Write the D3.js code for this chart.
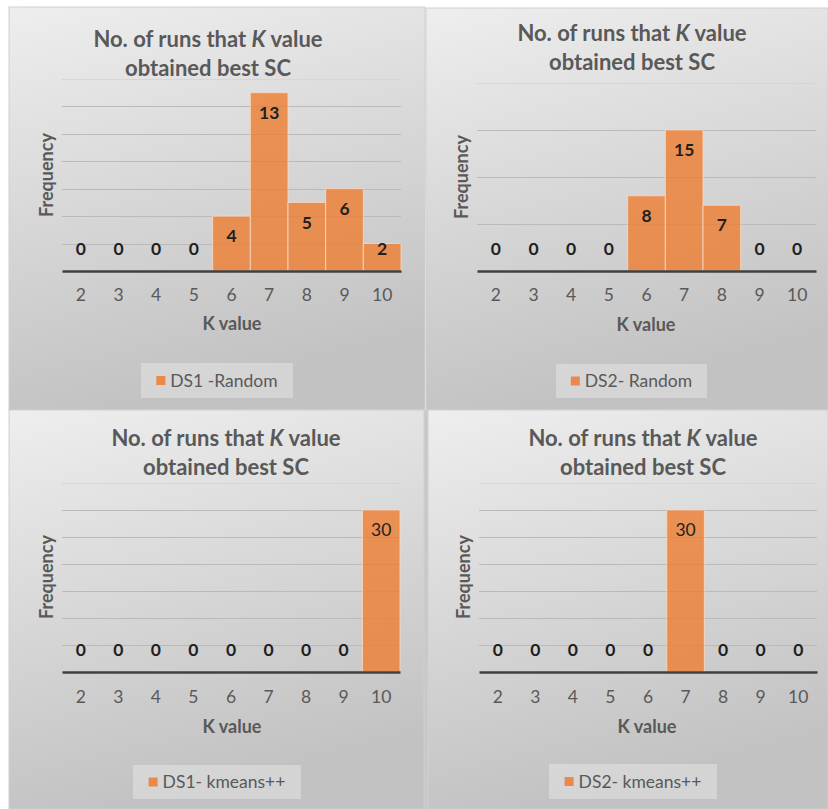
<!DOCTYPE html>
<html>
<head>
<meta charset="utf-8">
<script src="https://cdn.jsdelivr.net/npm/d3@7"></script>
<style>
  html, body { margin: 0; padding: 0; background: #ffffff; }
  svg { display: block; font-family: Lato, "Open Sans", sans-serif; }
</style>
</head>
<body>
<svg id="chart" width="828" height="809"></svg>
<script>
// Category axis: the K values tried
const kValues = ["2", "3", "4", "5", "6", "7", "8", "9", "10"];

// Number of runs (out of 30) in which each K gave the best silhouette coefficient
const ds1Random = [0, 0, 0, 0, 4, 13, 5, 6, 2];
const ds2Random = [0, 0, 0, 0, 8, 15, 7, 0, 0];
const ds1Kmeans = [0, 0, 0, 0, 0, 0, 0, 0, 30];
const ds2Kmeans = [0, 0, 0, 0, 0, 30, 0, 0, 0];

const seriesValues = [ds1Random, ds2Random, ds1Kmeans, ds2Kmeans];
const seriesNames = ["DS1 -Random", "DS2- Random", "DS1- kmeans++", "DS2- kmeans++"];

// Value axis extent and gridline step for each chart
const yMaxes = [14, 20, 35, 35];
const yTickSteps = [2, 5, 5, 5];

const xAxisTitle = "K value";
const yAxisTitle = "Frequency";
const titleLine1 = ["No. of runs that ", "K", " value"];
const titleLine2 = "obtained best SC";

// Placement of the four chart areas on the page
const layout = [
  { box: [9, 7, 416, 403],  plot: [62, 79, 401, 271],  titleX: 208, titleY: [39, 68],  tickY: 295, xTitle: [232, 324], yTitle: [47, 175],  legend: [141, 363, 152, 35] },
  { box: [426, 8, 402, 402], plot: [477, 83, 816, 271], titleX: 632, titleY: [33, 62],  tickY: 295, xTitle: [646, 325], yTitle: [462, 177], legend: [556, 364, 151, 34] },
  { box: [9, 410, 415, 399], plot: [62, 483, 400, 672], titleX: 226, titleY: [438, 467], tickY: 697, xTitle: [232, 727], yTitle: [47, 577],  legend: [133, 765, 168, 34] },
  { box: [428, 410, 400, 399], plot: [479, 483, 817, 672], titleX: 643, titleY: [438, 467], tickY: 697, xTitle: [647, 727], yTitle: [464, 577], legend: [549, 764, 168, 35] }
];

const svg = d3.select("#chart");
const defs = svg.append("defs");

const grad = defs.append("linearGradient")
  .attr("id", "panelBg")
  .attr("x1", 0).attr("y1", 0).attr("x2", 0.25).attr("y2", 1);
grad.append("stop").attr("offset", "0%").attr("stop-color", "#eeeeee");
grad.append("stop").attr("offset", "45%").attr("stop-color", "#dadada");
grad.append("stop").attr("offset", "100%").attr("stop-color", "#c2c2c2");

// gap strip between the lower charts
svg.append("rect").attr("x", 424).attr("y", 410).attr("width", 4).attr("height", 399).attr("fill", "#c8c8c8");

layout.forEach((L, i) => {
  const values = seriesValues[i];
  const g = svg.append("g");

  // chart area background
  g.append("rect")
    .attr("x", L.box[0]).attr("y", L.box[1])
    .attr("width", L.box[2]).attr("height", L.box[3])
    .attr("fill", "url(#panelBg)")
    .attr("stroke", "#cfcfcf").attr("stroke-width", 1);

  const [x0, yTop, x1, yBase] = L.plot;
  const x = d3.scaleBand().domain(kValues).range([x0, x1]).paddingInner(0).paddingOuter(0);
  const y = d3.scaleLinear().domain([0, yMaxes[i]]).range([yBase, yTop]);
  const gridTicks = d3.range(yTickSteps[i], yMaxes[i] + 0.001, yTickSteps[i]);

  // horizontal gridlines
  g.append("g")
    .selectAll("line")
    .data(gridTicks)
    .join("line")
    .attr("x1", x0).attr("x2", x1)
    .attr("y1", d => Math.round(y(d)) + 0.5).attr("y2", d => Math.round(y(d)) + 0.5)
    .attr("stroke", d => d === yMaxes[i] ? "#d6d6d6" : "#bababa")
    .attr("stroke-width", 1);

  // bars
  g.append("g")
    .selectAll("rect")
    .data(values)
    .join("rect")
    .attr("x", (d, j) => x(kValues[j]))
    .attr("width", x.bandwidth())
    .attr("y", d => y(d))
    .attr("height", d => yBase - y(d))
    .attr("fill", "#ED7D31")
    .attr("fill-opacity", 0.8)
    .attr("stroke", "#f8dcc8")
    .attr("stroke-opacity", d => d > 0 ? 0.8 : 0)
    .attr("stroke-width", 1);

  // category axis
  const xAxis = g.append("g")
    .attr("transform", `translate(0,${yBase})`)
    .call(d3.axisBottom(x).tickSize(0).tickPadding(0));
  xAxis.select(".domain").attr("stroke", "#404040").attr("stroke-width", 2.5);
  xAxis.selectAll(".tick text")
    .attr("y", L.tickY - yBase)
    .attr("dy", "0.35em")
    .attr("fill", "#595959")
    .style("font-family", "Lato, sans-serif")
    .style("font-size", "17.5px");

  // data labels (inside end, kept above the axis for short bars)
  g.append("g")
    .selectAll("text")
    .data(values)
    .join("text")
    .attr("x", (d, j) => x(kValues[j]) + x.bandwidth() / 2)
    .attr("y", d => Math.min(y(d) + 20, yBase - 22))
    .attr("dy", "0.35em")
    .attr("text-anchor", "middle")
    .attr("fill", "#1f1f1f")
    .attr("font-weight", d => (i >= 2 && d > 0) ? 400 : 700)
    .attr("font-size", 17.5)
    .text(d => d);

  // chart title
  const t1 = g.append("text")
    .attr("x", L.titleX).attr("y", L.titleY[0]).attr("dy", "0.35em")
    .attr("text-anchor", "middle")
    .attr("fill", "#595959").attr("font-weight", 700).attr("font-size", 22);
  titleLine1.forEach((s, k) => {
    t1.append("tspan").attr("font-style", k === 1 ? "italic" : "normal").text(s);
  });
  g.append("text")
    .attr("x", L.titleX).attr("y", L.titleY[1]).attr("dy", "0.35em")
    .attr("text-anchor", "middle")
    .attr("fill", "#595959").attr("font-weight", 700).attr("font-size", 22)
    .text(titleLine2);

  // axis titles
  g.append("text")
    .attr("x", L.xTitle[0]).attr("y", L.xTitle[1]).attr("dy", "0.35em")
    .attr("text-anchor", "middle")
    .attr("fill", "#595959").attr("font-weight", 700).attr("font-size", 18)
    .text(xAxisTitle);
  g.append("text")
    .attr("transform", `translate(${L.yTitle[0]},${L.yTitle[1]}) rotate(-90)`)
    .attr("dy", "0.35em")
    .attr("text-anchor", "middle")
    .attr("fill", "#595959").attr("font-weight", 700).attr("font-size", 18)
    .text(yAxisTitle);

  // legend
  const [lx, ly, lw, lh] = L.legend;
  g.append("rect")
    .attr("x", lx).attr("y", ly).attr("width", lw).attr("height", lh)
    .attr("fill", "#ffffff").attr("fill-opacity", 0.3);
  const sw = 9;
  const label = g.append("text")
    .attr("y", ly + lh / 2).attr("dy", "0.35em")
    .attr("fill", "#595959").attr("font-size", 17.5)
    .text(seriesNames[i]);
  const tw = label.node().getComputedTextLength();
  const startX = lx + (lw - (sw + 5 + tw)) / 2;
  g.append("rect")
    .attr("x", startX).attr("y", ly + lh / 2 - sw / 2)
    .attr("width", sw).attr("height", sw)
    .attr("fill", "#ED7D31").attr("fill-opacity", 0.85);
  label.attr("x", startX + sw + 5);
});
</script>
</body>
</html>
